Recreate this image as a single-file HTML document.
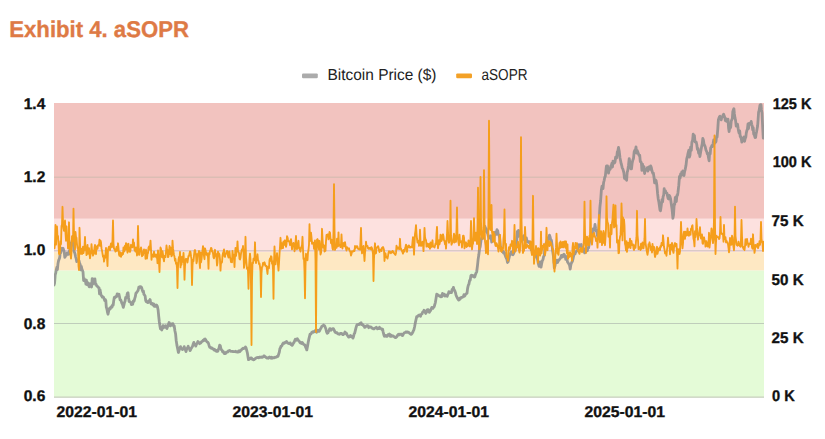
<!DOCTYPE html>
<html><head><meta charset="utf-8"><title>Exhibit 4. aSOPR</title>
<style>
html,body{margin:0;padding:0;background:#fff;}
body{width:825px;height:439px;overflow:hidden;font-family:"Liberation Sans",Arial,sans-serif;}
svg{display:block}
text{font-family:"Liberation Sans",Arial,sans-serif;text-rendering:geometricPrecision;}
.ax{font-weight:700;font-size:15.5px;fill:#111;stroke:#111;stroke-width:0.35px}
.lg{font-size:15.9px;fill:#222}
</style></head><body>
<svg width="825" height="439" viewBox="0 0 825 439">
<rect width="825" height="439" fill="#ffffff"/>
<text x="9.3" y="37.4" font-size="22.8" font-weight="700" fill="#DE7A45" stroke="#DE7A45" stroke-width="0.35" textLength="179.6" lengthAdjust="spacingAndGlyphs">Exhibit 4. aSOPR</text>
<!-- legend -->
<rect x="302" y="73.4" width="15.8" height="4.8" rx="1.2" fill="#ABABAB"/>
<text class="lg" x="327.5" y="80" textLength="109" lengthAdjust="spacingAndGlyphs">Bitcoin Price ($)</text>
<rect x="456.2" y="73.4" width="15.8" height="4.8" rx="1.2" fill="#F3A127"/>
<text class="lg" x="481.5" y="80" textLength="46" lengthAdjust="spacingAndGlyphs">aSOPR</text>
<!-- bands -->
<rect x="54" y="103" width="710" height="115.80000000000001" fill="#F2C3BF"/>
<rect x="54" y="218.8" width="710" height="33.29999999999998" fill="#FDE1DF"/>
<rect x="54" y="252.1" width="710" height="18.50000000000003" fill="#FEE8C3"/>
<rect x="54" y="270.6" width="710" height="127.0" fill="#E4FBD7"/>
<!-- gridlines -->
<g stroke="#9aa0a0" stroke-opacity="0.5" stroke-width="1">
<line x1="54" x2="764" y1="177.3" y2="177.3" stroke="#a4ae9c" stroke-opacity="0.30" stroke-width="1.6"/>
<line x1="54" x2="764" y1="250.8" y2="250.8"/>
<line x1="54" x2="764" y1="323.5" y2="323.5"/>
<line x1="54" x2="764" y1="397.2" y2="397.2" stroke="#c9cfc0" stroke-opacity="1" stroke-width="1.3"/>
</g>
<!-- series -->
<clipPath id="cp"><rect x="54" y="103" width="710" height="295.6"/></clipPath>
<g clip-path="url(#cp)">
<polyline fill="none" stroke="#8C8C8C" stroke-opacity="0.86" stroke-width="2.8" stroke-linejoin="round" stroke-linecap="round" points="54.1,285.0 54.6,282.9 55.2,274.8 55.7,273.2 56.3,269.6 56.9,267.3 57.4,269.6 58.0,263.4 58.6,260.4 59.1,259.3 59.7,257.5 60.3,251.9 60.8,252.8 61.4,248.3 62.0,249.2 62.5,249.2 63.1,248.3 63.6,249.9 64.2,251.7 64.8,257.4 65.4,256.3 65.9,255.1 66.5,255.2 67.1,252.9 67.7,253.4 68.2,253.6 68.8,254.3 69.4,251.1 70.0,249.2 70.5,243.2 71.0,245.4 71.6,242.6 72.2,240.6 72.8,245.1 73.3,240.6 73.9,251.0 74.5,252.3 75.0,253.7 75.6,256.8 76.2,258.7 76.7,261.6 77.3,260.8 77.9,260.3 78.4,260.8 79.0,260.6 79.6,263.3 80.2,264.5 80.8,269.9 81.3,266.4 81.9,269.1 82.5,270.5 83.0,271.9 83.6,280.5 84.2,278.7 84.8,280.2 85.3,280.0 85.9,284.1 86.4,280.1 87.0,284.5 87.6,282.5 88.1,284.6 88.7,285.6 89.3,286.8 89.8,283.6 90.4,285.1 91.0,285.2 91.6,287.0 92.2,278.6 92.7,284.2 93.3,281.1 93.8,279.1 94.4,280.1 94.9,278.9 95.5,284.3 96.1,284.1 96.7,285.9 97.3,286.2 97.8,286.8 98.4,287.4 99.0,287.7 99.5,293.8 100.1,290.0 100.6,293.1 101.2,295.5 101.8,295.9 102.3,297.1 102.9,296.7 103.5,297.3 104.1,298.7 104.7,300.5 105.2,299.4 105.8,300.7 106.3,307.2 106.9,309.1 107.4,311.8 108.0,314.2 108.6,311.5 109.1,309.0 109.7,308.2 110.3,308.9 110.8,307.2 111.4,306.7 112.0,307.1 112.6,305.0 113.2,305.0 113.7,300.9 114.3,297.5 114.9,297.8 115.5,296.6 116.1,296.9 116.6,296.6 117.2,293.9 117.8,294.4 118.3,295.1 118.9,294.1 119.5,296.7 120.1,299.9 120.7,299.9 121.2,301.1 121.8,303.0 122.5,304.4 123.3,307.3 123.9,305.1 124.5,302.5 125.1,300.9 125.7,297.3 126.3,297.6 126.8,295.8 127.4,293.3 128.0,292.7 128.6,298.0 129.1,301.5 129.7,301.6 130.3,301.9 130.8,302.4 131.4,304.6 132.0,303.8 132.7,304.2 133.3,301.0 134.0,301.3 134.7,298.6 135.3,296.7 135.9,293.2 136.5,292.8 137.1,291.8 137.7,291.0 138.3,289.8 138.8,287.2 139.4,287.8 140.0,286.7 140.6,286.6 141.2,287.0 141.7,288.0 142.3,290.0 142.9,291.8 143.4,290.9 143.9,294.3 144.5,294.9 145.1,295.9 145.7,300.5 146.2,301.6 146.8,301.9 147.4,302.2 147.9,302.6 148.5,300.9 149.0,301.4 149.6,301.8 150.1,299.5 150.7,302.9 151.2,304.0 151.8,304.2 152.3,303.4 153.0,305.0 153.7,303.9 154.3,306.3 155.0,306.3 155.6,306.3 156.2,305.0 156.8,305.3 157.4,306.4 158.1,309.9 158.7,316.2 159.3,321.5 159.9,325.9 160.5,328.9 161.1,327.4 161.7,330.0 162.3,328.0 162.9,325.7 163.5,327.8 164.1,326.2 164.7,326.2 165.2,327.0 165.8,325.8 166.3,327.6 166.9,328.5 167.4,327.0 168.0,326.1 168.6,324.0 169.1,322.5 169.8,323.8 170.5,325.9 171.1,325.2 171.7,324.0 172.3,323.6 172.9,323.7 173.6,326.2 174.2,325.8 174.9,330.7 175.6,334.0 176.2,340.5 176.9,345.1 177.7,348.9 178.4,352.5 179.1,350.3 179.8,348.3 180.5,346.6 181.1,348.4 181.8,348.5 182.4,349.6 183.0,348.8 183.6,348.8 184.2,346.7 184.8,348.6 185.4,349.8 186.0,351.6 186.6,349.4 187.1,348.6 187.6,347.7 188.2,346.3 188.8,348.2 189.4,348.7 190.0,350.6 190.6,349.7 191.2,348.2 191.8,347.6 192.5,346.4 193.1,344.3 193.8,342.4 194.4,344.2 195.1,344.3 195.7,346.1 196.2,344.9 196.8,343.7 197.3,342.9 197.9,341.5 198.5,342.2 199.1,342.8 199.7,343.7 200.2,342.7 200.8,342.9 201.3,342.2 201.9,341.4 202.5,341.4 203.2,340.1 203.8,340.6 204.5,339.2 205.1,339.0 205.7,339.9 206.2,340.8 206.8,341.5 207.3,342.2 207.9,342.4 208.5,343.5 209.1,345.7 209.7,347.1 210.2,346.9 210.8,348.2 211.3,348.2 211.9,348.0 212.4,348.9 213.0,348.6 213.5,349.1 214.1,350.1 214.6,349.6 215.2,350.6 215.7,350.2 216.3,351.3 216.8,350.8 217.4,351.4 217.9,351.2 218.5,349.2 219.1,347.7 219.7,345.2 220.3,345.8 220.9,348.6 221.5,349.9 222.1,350.3 222.6,351.7 223.2,351.4 223.7,352.5 224.3,353.5 225.0,353.6 225.7,353.4 226.3,352.2 227.0,352.1 227.7,352.1 228.3,350.9 229.0,351.0 229.7,350.4 230.3,351.2 230.8,351.3 231.4,351.4 231.9,351.3 232.5,351.5 233.1,351.4 233.7,351.7 234.3,351.6 234.9,351.7 235.5,351.3 236.1,351.8 236.7,351.6 237.3,352.1 237.9,352.1 238.6,351.1 239.2,350.8 239.8,351.7 240.5,350.7 241.2,350.2 241.8,349.4 242.5,348.8 243.1,348.1 243.7,348.5 244.3,348.1 244.9,348.2 245.5,347.0 246.1,348.0 246.8,350.7 247.4,353.0 247.9,356.2 248.5,359.7 249.1,359.5 249.6,358.8 250.1,358.9 250.7,357.9 251.2,357.9 251.8,358.4 252.3,359.3 252.9,359.1 253.4,359.8 254.0,359.7 254.5,359.2 255.1,359.0 255.6,358.2 256.2,357.9 256.9,357.7 257.5,357.7 258.2,357.3 258.9,357.8 259.4,357.3 260.0,357.0 260.5,357.4 261.1,357.4 261.6,356.9 262.2,357.4 262.7,357.0 263.3,356.9 263.8,356.0 264.4,355.9 264.9,356.7 265.5,356.9 266.0,357.5 266.6,357.7 267.1,358.1 267.7,357.8 268.3,358.2 268.9,357.6 269.5,357.0 270.1,357.7 270.7,358.1 271.3,357.2 271.9,358.3 272.5,357.6 273.2,357.7 273.8,357.9 274.4,357.9 275.0,357.2 275.6,357.3 276.2,357.2 276.8,357.0 277.4,356.1 278.0,356.3 278.6,354.4 279.3,352.3 279.9,348.6 280.4,348.0 281.0,346.1 281.5,346.2 282.1,345.4 282.6,344.0 283.3,343.0 284.0,343.4 284.6,343.1 285.3,342.2 285.9,342.4 286.5,341.5 287.1,342.5 287.8,343.1 288.4,343.2 289.0,343.6 289.6,343.1 290.3,343.0 290.9,344.6 291.6,344.5 292.2,345.3 292.8,344.4 293.4,343.2 294.0,342.4 294.6,340.9 295.3,339.3 296.0,339.7 296.6,340.2 297.3,338.7 298.0,340.2 298.6,340.6 299.3,341.3 300.0,342.7 300.6,343.1 301.1,342.6 301.7,343.4 302.2,342.5 302.8,343.2 303.5,344.4 304.2,344.6 304.9,345.0 305.5,346.9 306.2,348.3 306.8,349.9 307.5,346.5 308.2,342.3 308.8,339.4 309.4,336.9 310.0,334.2 310.6,334.2 311.3,333.5 311.9,332.2 312.4,332.0 313.0,331.6 313.5,332.2 314.1,331.4 314.6,331.6 315.3,330.6 316.0,331.3 316.6,332.3 317.3,331.3 317.9,330.3 318.4,330.7 319.0,331.4 319.5,330.9 320.1,329.6 320.7,328.5 321.2,327.8 321.8,326.4 322.4,326.0 322.9,325.8 323.5,325.1 324.1,325.7 324.6,325.9 325.2,327.3 325.9,329.0 326.5,331.7 327.2,333.3 327.9,332.9 328.5,331.4 329.1,330.5 329.7,328.7 330.3,328.7 331.0,330.2 331.6,329.5 332.2,329.0 332.8,328.7 333.4,328.6 333.9,329.6 334.5,330.9 335.1,332.3 335.6,332.5 336.3,332.9 337.0,332.6 337.6,333.7 338.3,334.0 339.0,333.9 339.6,334.3 340.3,333.6 341.0,333.3 341.6,333.3 342.1,334.0 342.6,334.5 343.2,334.6 343.8,333.7 344.4,333.7 345.0,332.0 345.6,332.8 346.3,333.0 346.9,334.5 347.5,335.5 348.1,336.3 348.7,337.1 349.3,336.9 349.9,336.7 350.5,335.4 351.1,336.1 351.7,336.9 352.3,336.5 352.9,338.1 353.5,336.7 354.1,334.0 354.7,333.2 355.3,330.7 355.9,328.1 356.5,326.1 357.1,324.6 357.7,324.7 358.3,324.3 358.9,324.5 359.4,323.9 360.0,323.5 360.5,323.9 361.1,322.8 361.7,324.5 362.3,324.3 362.9,324.8 363.5,325.8 364.1,325.9 364.7,327.4 365.3,327.1 365.9,326.2 366.5,326.2 367.1,325.7 367.6,325.6 368.2,326.0 368.7,327.7 369.3,326.9 370.0,326.9 370.6,327.0 371.3,327.2 372.0,328.2 372.7,328.4 373.4,328.9 374.0,328.9 374.7,328.3 375.3,327.9 375.8,327.9 376.4,327.2 376.9,328.1 377.5,328.9 378.2,328.4 378.9,328.6 379.5,327.3 380.2,328.1 380.8,328.5 381.4,328.8 382.0,329.5 382.6,329.2 383.2,332.1 383.9,334.9 384.4,336.2 385.0,335.4 385.5,335.4 386.1,336.3 386.6,335.8 387.3,336.3 388.0,334.7 388.6,334.6 389.3,334.0 390.2,336.2 390.8,334.9 391.3,336.4 391.9,335.6 392.4,336.0 393.0,335.8 393.7,336.5 394.4,336.8 395.0,337.4 395.7,337.6 396.2,337.2 396.8,336.8 397.3,335.5 397.9,334.9 398.5,334.2 399.1,335.0 399.7,334.2 400.3,334.4 400.9,334.4 401.5,334.1 402.0,335.4 402.6,335.5 403.2,334.3 403.9,333.2 404.6,332.6 405.2,332.6 405.8,332.0 406.4,331.9 407.0,332.4 407.6,331.9 408.2,332.4 408.8,332.5 409.4,333.2 410.0,333.6 410.5,333.8 411.1,334.3 411.7,334.1 412.2,333.3 412.8,332.2 413.3,330.9 413.9,329.8 414.6,326.7 415.4,322.4 416.0,319.7 416.7,316.6 417.4,316.7 418.0,315.9 418.7,315.3 419.4,314.9 419.9,315.2 420.5,316.3 421.0,314.5 421.6,314.0 422.1,313.7 422.7,312.1 423.4,311.6 424.0,310.3 424.6,311.0 425.2,312.5 425.8,313.4 426.4,312.0 427.0,310.2 427.6,309.7 428.2,309.7 428.8,312.0 429.4,312.3 430.0,311.2 430.6,310.5 431.2,308.9 431.8,307.5 432.3,308.1 432.9,308.4 433.4,307.1 434.0,307.1 434.7,305.0 435.4,302.3 436.0,298.6 436.7,294.1 437.3,294.5 437.9,294.9 438.5,295.5 439.1,295.8 439.6,296.2 440.2,295.8 440.8,296.9 441.4,295.9 442.0,296.4 442.5,293.4 443.1,295.1 443.7,294.5 444.3,294.3 444.9,296.1 445.4,295.5 446.0,295.2 446.6,295.3 447.2,296.4 447.8,294.6 448.3,293.8 448.9,291.7 449.5,292.1 450.2,292.5 450.8,292.0 451.5,292.6 452.1,289.4 452.8,290.0 453.4,287.3 454.1,290.2 454.7,290.5 455.4,292.4 456.0,294.9 456.7,296.7 457.3,298.0 457.9,298.9 458.6,300.0 459.2,299.9 459.8,298.3 460.4,298.7 461.0,297.6 461.6,297.4 462.2,297.4 462.8,297.0 463.4,296.5 463.9,294.8 464.5,296.2 465.1,295.4 465.7,294.2 466.4,293.7 467.0,293.3 467.6,288.4 468.3,285.2 468.9,284.2 469.6,280.4 470.2,280.2 470.9,275.6 471.5,275.2 472.2,276.4 472.8,275.5 473.5,276.3 474.1,277.0 474.8,277.0 475.4,274.6 476.1,272.9 476.7,271.8 477.4,266.3 478.1,259.6 478.9,254.3 479.6,248.5 480.2,246.7 480.9,241.3 481.5,238.2 482.2,236.6 482.8,238.4 483.5,231.7 484.2,231.8 485.0,226.5 485.7,230.9 486.3,228.7 487.0,232.2 487.7,233.5 488.3,236.1 489.0,238.1 489.7,238.0 490.3,237.1 491.0,235.7 491.7,242.0 492.3,239.4 493.0,240.5 493.7,240.9 494.3,236.4 495.0,232.4 495.7,232.1 496.3,234.3 497.0,229.7 497.7,230.7 498.3,234.6 499.0,234.8 499.7,238.8 500.3,246.0 501.0,247.7 501.6,249.5 502.3,251.6 502.9,251.1 503.4,253.0 503.9,252.4 504.5,252.6 505.0,254.8 505.6,256.7 506.2,257.9 506.9,259.3 507.5,262.5 508.2,261.6 508.8,258.8 509.5,255.9 510.0,253.6 510.6,253.2 511.1,251.9 511.6,252.9 512.2,254.5 512.9,254.8 513.5,253.8 514.2,251.6 514.8,250.9 515.5,249.1 516.1,244.3 516.8,240.3 517.4,231.5 517.9,236.7 518.5,230.3 519.0,231.8 519.5,234.9 520.1,234.7 520.8,236.6 521.4,241.2 522.0,237.5 522.6,239.5 523.2,236.4 523.9,236.8 524.5,235.3 525.1,241.0 525.8,237.9 526.4,237.9 527.0,241.6 527.6,241.1 528.2,242.3 528.8,242.2 529.4,241.8 530.0,243.0 530.6,245.3 531.2,249.7 531.8,249.4 532.4,250.0 533.0,252.5 533.6,251.0 534.2,255.1 534.7,253.6 535.3,253.0 535.9,255.2 536.5,257.5 537.2,258.2 537.8,260.7 538.4,263.9 539.1,266.3 539.7,266.0 540.4,262.0 541.0,267.2 541.7,263.4 542.3,260.7 543.0,259.6 543.6,256.5 544.3,255.4 544.9,249.0 545.6,247.9 546.2,242.6 546.9,244.0 547.5,237.8 548.2,239.3 548.8,239.1 549.5,235.1 550.1,237.0 550.8,240.1 551.4,240.2 552.0,244.6 552.6,250.7 553.2,254.5 553.8,260.2 554.3,267.9 555.0,265.9 555.6,262.1 556.3,262.0 556.9,260.1 557.6,262.5 558.2,260.5 558.9,260.4 559.5,259.3 560.1,258.6 560.7,257.9 561.4,255.4 562.0,255.9 562.7,256.9 563.3,255.0 564.0,254.2 564.6,255.5 565.2,255.8 565.7,259.3 566.3,256.7 566.9,258.8 567.5,262.0 568.2,262.9 568.8,263.9 569.5,265.0 570.2,269.1 571.0,264.1 571.7,262.5 572.4,261.3 573.0,258.8 573.7,255.7 574.3,252.6 575.0,253.9 575.6,252.3 576.3,251.4 576.9,251.0 577.6,250.0 578.2,246.5 578.9,244.6 579.5,246.6 580.1,245.6 580.7,245.3 581.2,244.5 581.8,249.2 582.4,248.1 583.0,248.0 583.6,251.4 584.1,251.7 584.7,252.9 585.3,252.0 586.0,247.8 586.6,250.0 587.3,250.7 587.9,247.6 588.6,247.8 589.2,244.3 589.8,239.7 590.5,239.9 591.1,236.2 591.8,233.3 592.4,234.1 593.1,228.8 593.7,230.5 594.4,229.3 595.0,224.5 595.6,228.3 596.2,231.0 596.9,231.8 597.5,236.1 598.0,232.8 598.6,232.0 599.2,219.3 599.9,207.2 600.6,201.0 601.4,189.7 602.0,186.2 602.5,187.9 603.0,188.6 603.6,182.5 604.2,180.3 604.7,177.5 605.3,176.3 605.8,171.7 606.4,166.1 606.9,165.9 607.5,165.8 608.0,169.1 608.5,173.2 609.1,170.0 609.7,168.3 610.2,169.2 610.8,166.0 611.3,165.7 611.9,163.3 612.5,167.0 613.0,161.1 613.8,162.3 614.5,162.9 615.0,162.1 615.6,157.1 616.2,158.2 616.7,157.8 617.3,151.9 617.9,150.8 618.5,147.4 619.2,150.9 620.0,158.0 620.6,160.8 621.1,163.4 621.7,165.5 622.2,167.9 622.8,168.9 623.4,170.9 623.9,172.9 624.5,178.3 625.0,177.3 625.5,179.0 626.1,178.0 626.6,180.3 627.2,172.2 627.7,170.7 628.5,165.4 629.2,158.6 629.8,161.8 630.3,163.9 630.9,168.8 631.5,168.8 632.1,163.6 632.7,160.4 633.5,158.4 634.2,151.7 634.8,150.2 635.4,150.3 636.0,147.0 636.6,153.1 637.3,150.6 637.9,152.3 638.5,153.9 639.1,155.5 639.7,155.2 640.3,161.6 640.8,161.6 641.4,163.0 641.9,170.3 642.5,164.2 643.0,168.8 643.5,168.7 644.0,166.7 644.6,173.5 645.1,169.4 645.6,170.2 646.2,169.3 646.8,169.2 647.3,167.6 647.8,171.0 648.4,169.3 649.0,166.8 649.5,168.5 650.1,169.2 650.7,165.9 651.3,167.5 652.0,171.0 652.8,173.3 653.4,173.2 654.0,177.2 654.6,182.8 655.4,179.9 656.1,180.5 656.9,185.5 657.6,193.7 658.2,198.7 658.8,201.6 659.4,205.7 660.0,210.0 660.5,210.8 661.2,206.1 662.0,199.7 662.6,201.8 663.1,196.7 663.7,195.1 664.2,188.6 664.8,192.5 665.4,190.8 665.9,192.3 666.5,192.9 667.0,193.2 667.5,195.9 668.1,198.4 668.7,199.0 669.3,195.4 669.9,196.4 670.6,198.9 671.4,204.8 672.1,209.4 672.9,218.3 673.5,215.1 674.2,204.2 674.7,204.4 675.3,197.4 675.8,197.3 676.3,201.5 676.9,195.5 677.5,195.4 678.0,192.2 678.8,185.2 679.5,176.4 680.1,178.1 680.6,173.8 681.2,175.5 681.8,172.0 682.3,174.8 682.9,170.9 683.4,174.5 684.0,175.6 684.6,171.7 685.2,169.6 686.0,165.3 686.7,159.1 687.5,155.9 688.2,152.6 688.8,150.3 689.4,157.1 690.0,155.2 690.6,147.1 691.3,150.4 691.9,142.3 692.6,140.3 693.2,134.1 693.8,136.0 694.4,135.4 695.0,141.8 695.6,141.7 696.2,142.0 696.8,144.8 697.4,149.3 698.0,148.4 698.6,153.0 699.3,152.7 699.9,156.6 700.5,153.1 701.1,149.6 701.6,146.7 702.2,144.2 702.8,138.4 703.4,140.0 704.0,144.1 704.6,145.5 705.2,146.7 706.0,150.3 706.7,151.4 707.3,153.8 707.9,153.7 708.5,157.8 709.1,160.8 709.6,153.2 710.2,153.9 710.7,147.9 711.3,146.9 711.9,145.5 712.5,146.6 713.1,143.8 713.7,140.0 714.3,143.7 714.9,142.2 715.5,142.4 716.0,141.4 716.6,136.5 717.1,137.2 717.8,128.6 718.4,119.5 719.0,118.2 719.5,116.6 720.0,116.3 720.6,118.1 721.2,119.9 721.9,117.2 722.5,116.9 723.0,115.3 723.6,114.3 724.3,116.1 724.8,117.5 725.4,120.7 725.9,118.7 726.4,121.3 727.0,121.4 727.5,121.3 728.0,119.1 728.6,128.3 729.1,131.5 729.6,127.8 730.2,128.1 730.7,127.1 731.2,121.3 731.8,119.7 732.3,118.7 732.8,111.6 733.4,109.8 733.9,108.7 734.4,113.9 735.0,118.1 735.5,120.1 736.2,126.2 737.0,124.7 737.5,124.2 738.1,128.3 738.6,131.2 739.1,133.2 739.7,130.9 740.2,136.6 740.7,136.4 741.3,139.1 741.8,142.1 742.3,139.9 742.9,138.3 743.4,138.6 744.0,137.0 744.6,141.3 745.2,138.5 745.8,137.2 746.3,132.8 746.9,130.4 747.4,129.3 748.0,124.0 748.5,128.6 749.1,123.3 749.7,124.5 750.5,123.8 751.2,121.4 751.7,124.3 752.2,125.9 752.7,129.8 753.2,127.7 753.7,134.1 754.2,134.5 755.1,137.6 755.6,137.5 756.1,133.8 756.6,131.6 757.1,128.8 757.6,126.0 758.1,119.7 758.6,112.0 759.1,110.7 760.0,105.0 760.5,104.6 761.0,104.7 761.5,110.0 762.0,112.9 762.7,127.9 763.3,138.2"/>
<polyline fill="none" stroke="#F59E1B" stroke-width="1.85" stroke-linejoin="round" points="54.0,244.3 54.5,248.4 55.0,243.5 55.5,225.0 56.0,244.6 56.5,235.8 57.0,226.5 57.5,238.4 58.0,236.0 58.5,244.0 59.0,253.6 59.5,254.4 60.0,251.7 60.5,241.2 61.0,244.1 61.5,226.1 62.0,224.6 62.5,206.8 63.0,221.6 63.5,228.1 64.0,230.9 64.5,225.2 65.0,220.5 65.5,232.9 66.0,240.7 66.5,226.3 67.0,239.4 67.5,237.1 68.0,248.4 68.5,243.7 69.0,222.3 69.5,246.0 70.0,252.1 70.5,254.1 71.0,258.6 71.5,252.1 72.0,236.2 72.5,238.4 73.0,241.2 73.5,208.7 74.0,234.6 74.5,244.8 75.0,249.5 75.5,232.0 76.0,237.0 76.5,237.7 77.0,244.3 77.5,248.0 78.0,248.7 78.5,265.8 79.0,270.1 79.5,227.8 80.0,242.9 80.5,253.8 81.0,248.7 81.5,252.0 82.0,254.1 82.5,248.7 83.0,246.6 83.5,253.0 84.0,249.8 84.5,246.9 85.0,237.0 85.5,249.9 86.0,247.5 86.5,255.1 87.0,248.3 87.5,244.9 88.0,253.9 88.5,251.5 89.0,248.1 89.5,253.7 90.0,258.3 90.5,254.9 91.0,253.2 91.5,244.1 92.0,250.2 92.5,250.5 93.0,255.6 93.5,250.5 94.0,253.9 94.5,247.6 95.0,245.0 95.5,250.4 96.0,254.2 96.5,246.5 97.0,246.2 97.5,248.9 98.0,245.6 98.5,244.8 99.0,244.9 99.5,239.6 100.0,245.9 100.5,240.6 101.0,242.2 101.5,248.4 102.0,250.6 102.5,253.7 103.0,256.8 103.5,255.6 104.0,261.6 104.5,258.6 105.0,258.0 105.5,254.5 106.0,247.9 106.5,255.4 107.0,258.0 107.5,266.0 108.0,249.7 108.5,248.1 109.0,246.6 109.5,249.2 110.0,250.2 110.5,246.1 111.0,243.3 111.5,243.3 112.0,247.2 112.5,239.6 113.0,220.5 113.5,243.6 114.0,248.6 114.5,249.2 115.0,250.2 115.5,251.6 116.0,250.2 116.5,247.0 117.0,250.8 117.5,249.2 118.0,243.3 118.5,248.1 119.0,254.6 119.5,255.8 120.0,252.2 120.5,254.8 121.0,256.9 121.5,253.1 122.0,255.0 122.5,252.8 123.0,254.2 123.5,247.4 124.0,251.7 124.5,251.0 125.0,245.6 125.5,249.5 126.0,243.1 126.5,243.6 127.0,249.1 127.5,252.7 128.0,245.3 128.5,243.8 129.0,248.7 129.5,251.7 130.0,251.9 130.5,250.2 131.0,244.8 131.5,247.0 132.0,245.9 132.5,247.3 133.0,239.4 133.5,244.9 134.0,242.7 134.5,249.7 135.0,250.6 135.5,251.6 136.0,247.4 136.5,248.5 137.0,255.5 137.5,250.2 138.0,226.0 138.5,243.8 139.0,254.7 139.5,254.7 140.0,249.4 140.5,249.3 141.0,247.5 141.5,250.0 142.0,256.2 142.5,254.1 143.0,255.2 143.5,251.8 144.0,249.4 144.5,253.1 145.0,250.6 145.5,258.8 146.0,249.7 146.5,256.7 147.0,258.5 147.5,253.9 148.0,253.1 148.5,247.7 149.0,246.5 149.5,249.5 150.0,247.0 150.5,240.6 151.0,249.2 151.5,259.8 152.0,254.9 152.5,254.8 153.0,254.3 153.5,256.8 154.0,251.6 154.5,255.0 155.0,256.5 155.5,255.1 156.0,254.5 156.5,257.5 157.0,255.9 157.5,263.2 158.0,250.5 158.5,258.5 159.0,262.2 159.5,272.0 160.0,257.9 160.5,247.5 161.0,248.8 161.5,254.2 162.0,257.3 162.5,251.2 163.0,254.4 163.5,258.7 164.0,261.3 164.5,255.9 165.0,255.9 165.5,257.1 166.0,252.0 166.5,245.4 167.0,249.4 167.5,250.1 168.0,257.1 168.5,256.4 169.0,251.8 169.5,246.0 170.0,254.0 170.5,247.5 171.0,253.1 171.5,256.4 172.0,255.4 172.5,240.6 173.0,248.4 173.5,251.7 174.0,254.9 174.5,256.8 175.0,260.8 175.5,259.0 176.0,263.8 176.5,262.9 177.0,268.3 177.5,288.0 178.0,267.3 178.5,259.7 179.0,256.9 179.5,260.5 180.0,251.9 180.5,267.4 181.0,261.3 181.5,264.8 182.0,256.7 182.5,259.3 183.0,261.9 183.5,252.9 184.0,261.4 184.5,279.7 185.0,265.8 185.5,260.5 186.0,258.8 186.5,259.8 187.0,258.9 187.5,262.5 188.0,258.8 188.5,256.0 189.0,256.1 189.5,253.5 190.0,251.5 190.5,252.0 191.0,256.2 191.5,259.2 192.0,285.1 192.5,265.7 193.0,259.7 193.5,261.1 194.0,255.5 194.5,251.0 195.0,250.0 195.5,252.5 196.0,254.6 196.5,263.3 197.0,261.3 197.5,254.0 198.0,253.7 198.5,253.3 199.0,251.0 199.5,262.2 200.0,268.0 200.5,252.5 201.0,262.3 201.5,259.6 202.0,254.6 202.5,250.3 203.0,246.2 203.5,252.3 204.0,256.2 204.5,259.2 205.0,248.3 205.5,250.3 206.0,252.8 206.5,254.9 207.0,253.2 207.5,255.3 208.0,257.1 208.5,268.7 209.0,253.0 209.5,254.3 210.0,251.0 210.5,250.3 211.0,247.9 211.5,248.2 212.0,251.5 212.5,251.0 213.0,253.4 213.5,257.3 214.0,258.3 214.5,256.2 215.0,249.8 215.5,253.9 216.0,253.8 216.5,257.7 217.0,265.5 217.5,262.7 218.0,251.6 218.5,255.3 219.0,253.5 219.5,254.9 220.0,259.7 220.5,270.6 221.0,262.4 221.5,262.8 222.0,262.3 222.5,255.9 223.0,253.2 223.5,251.5 224.0,249.4 224.5,256.4 225.0,256.9 225.5,253.7 226.0,253.9 226.5,251.9 227.0,250.9 227.5,251.3 228.0,256.0 228.5,257.5 229.0,253.7 229.5,251.5 230.0,257.1 230.5,258.9 231.0,262.0 231.5,259.2 232.0,262.4 232.5,251.0 233.0,255.2 233.5,254.7 234.0,259.0 234.5,267.0 235.0,255.8 235.5,247.9 236.0,256.0 236.5,251.8 237.0,250.3 237.5,241.4 238.0,251.1 238.5,252.1 239.0,252.9 239.5,258.9 240.0,259.5 240.5,257.7 241.0,253.7 241.5,251.0 242.0,249.2 242.5,250.0 243.0,246.0 243.5,252.0 244.0,267.9 244.5,263.9 245.0,255.8 245.5,236.8 246.0,257.3 246.5,263.6 247.0,268.7 247.5,267.6 248.0,270.9 248.5,288.8 249.0,267.6 249.5,259.2 250.0,253.7 250.5,259.4 251.0,285.7 251.5,345.0 252.0,280.7 252.5,262.8 253.0,263.4 253.5,258.6 254.0,260.4 254.5,259.4 255.0,242.3 255.5,260.2 256.0,263.1 256.5,258.8 257.0,258.3 257.5,254.3 258.0,260.0 258.5,261.0 259.0,264.0 259.5,263.5 260.0,266.6 260.5,271.3 261.0,297.0 261.5,273.3 262.0,267.0 262.5,266.7 263.0,262.9 263.5,263.6 264.0,264.5 264.5,262.3 265.0,264.1 265.5,265.9 266.0,266.1 266.5,265.9 267.0,270.0 267.5,274.0 268.0,267.2 268.5,266.5 269.0,268.1 269.5,260.3 270.0,258.5 270.5,260.9 271.0,256.2 271.5,256.9 272.0,263.6 272.5,261.1 273.0,269.4 273.5,298.8 274.0,264.0 274.5,246.5 275.0,257.2 275.5,264.4 276.0,258.1 276.5,258.5 277.0,253.1 277.5,258.8 278.0,265.2 278.5,270.6 279.0,263.1 279.5,254.1 280.0,246.9 280.5,237.8 281.0,245.7 281.5,248.7 282.0,243.1 282.5,245.2 283.0,248.1 283.5,241.4 284.0,245.0 284.5,242.6 285.0,240.3 285.5,243.2 286.0,246.8 286.5,244.5 287.0,236.2 287.5,237.3 288.0,239.8 288.5,241.4 289.0,241.1 289.5,242.0 290.0,245.2 290.5,240.7 291.0,239.1 291.5,243.6 292.0,249.3 292.5,245.0 293.0,244.3 293.5,242.9 294.0,244.3 294.5,251.3 295.0,248.8 295.5,242.5 296.0,236.0 296.5,247.2 297.0,249.2 297.5,243.4 298.0,243.9 298.5,240.8 299.0,248.5 299.5,247.8 300.0,250.0 300.5,251.5 301.0,248.3 301.5,246.9 302.0,245.0 302.5,236.8 303.0,249.8 303.5,258.9 304.0,258.2 304.5,271.4 305.0,298.3 305.5,266.4 306.0,253.8 306.5,255.7 307.0,257.3 307.5,260.3 308.0,252.4 308.5,250.0 309.0,244.6 309.5,224.2 310.0,241.0 310.5,237.9 311.0,232.6 311.5,237.4 312.0,243.8 312.5,242.8 313.0,242.7 313.5,242.6 314.0,248.8 314.5,247.6 315.0,240.4 315.5,260.2 316.0,332.0 316.5,263.5 317.0,239.6 317.5,239.1 318.0,240.5 318.5,245.6 319.0,249.7 319.5,240.8 320.0,246.1 320.5,254.5 321.0,253.0 321.5,249.0 322.0,228.8 322.5,238.2 323.0,246.1 323.5,247.6 324.0,245.3 324.5,251.5 325.0,249.5 325.5,250.8 326.0,241.2 326.5,235.0 327.0,236.1 327.5,234.3 328.0,234.3 328.5,239.4 329.0,236.6 329.5,231.9 330.0,232.7 330.5,238.6 331.0,243.2 331.5,239.6 332.0,244.2 332.5,248.4 333.0,249.8 333.5,230.8 334.0,184.1 334.5,228.7 335.0,250.0 335.5,245.7 336.0,246.2 336.5,247.9 337.0,238.7 337.5,244.1 338.0,246.4 338.5,232.4 339.0,244.9 339.5,245.0 340.0,245.9 340.5,247.1 341.0,244.3 341.5,234.5 342.0,244.9 342.5,248.5 343.0,243.9 343.5,243.0 344.0,243.6 344.5,246.3 345.0,242.1 345.5,245.6 346.0,248.6 346.5,250.6 347.0,247.1 347.5,248.2 348.0,248.3 348.5,249.0 349.0,248.3 349.5,250.8 350.0,251.1 350.5,252.3 351.0,255.5 351.5,254.0 352.0,251.2 352.5,251.5 353.0,251.6 353.5,251.2 354.0,250.2 354.5,251.0 355.0,246.0 355.5,248.4 356.0,247.3 356.5,247.2 357.0,246.0 357.5,246.7 358.0,248.9 358.5,248.8 359.0,249.3 359.5,249.5 360.0,249.7 360.5,241.4 361.0,227.9 361.5,246.4 362.0,253.4 362.5,251.1 363.0,251.7 363.5,246.0 364.0,253.8 364.5,261.0 365.0,252.6 365.5,249.1 366.0,241.7 366.5,245.9 367.0,246.1 367.5,246.0 368.0,248.3 368.5,248.8 369.0,247.9 369.5,248.9 370.0,248.9 370.5,247.7 371.0,249.6 371.5,247.2 372.0,248.2 372.5,250.4 373.0,254.0 373.5,281.0 374.0,258.6 374.5,249.6 375.0,243.3 375.5,253.5 376.0,253.2 376.5,247.6 377.0,247.7 377.5,247.1 378.0,246.1 378.5,247.4 379.0,250.4 379.5,252.0 380.0,249.9 380.5,249.6 381.0,249.4 381.5,251.1 382.0,247.9 382.5,247.6 383.0,247.0 383.5,248.2 384.0,249.9 384.5,261.0 385.0,255.4 385.5,253.3 386.0,256.8 386.5,257.4 387.0,256.8 387.5,258.5 388.0,256.0 388.5,252.8 389.0,251.3 389.5,252.7 390.0,251.5 390.5,252.8 391.0,253.2 391.5,252.0 392.0,252.1 392.5,250.9 393.0,252.5 393.5,251.6 394.0,253.2 394.5,253.6 395.0,254.5 395.5,254.9 396.0,252.9 396.5,245.6 397.0,248.0 397.5,248.7 398.0,247.5 398.5,248.9 399.0,247.1 399.5,249.1 400.0,238.8 400.5,248.4 401.0,248.5 401.5,250.3 402.0,251.1 402.5,252.2 403.0,253.6 403.5,250.0 404.0,250.7 404.5,251.6 405.0,248.7 405.5,246.8 406.0,244.6 406.5,245.9 407.0,251.9 407.5,247.5 408.0,247.6 408.5,245.7 409.0,245.4 409.5,247.1 410.0,247.7 410.5,247.2 411.0,246.6 411.5,246.8 412.0,247.5 412.5,241.9 413.0,237.1 413.5,240.5 414.0,254.6 414.5,244.0 415.0,233.9 415.5,230.6 416.0,225.1 416.5,233.6 417.0,239.0 417.5,242.5 418.0,240.7 418.5,240.7 419.0,245.8 419.5,243.8 420.0,229.7 420.5,241.1 421.0,245.9 421.5,245.6 422.0,244.7 422.5,241.6 423.0,243.9 423.5,251.1 424.0,241.7 424.5,227.9 425.0,237.0 425.5,239.5 426.0,239.9 426.5,246.6 427.0,243.4 427.5,243.7 428.0,246.3 428.5,247.1 429.0,243.9 429.5,245.3 430.0,248.8 430.5,242.5 431.0,247.3 431.5,245.9 432.0,243.3 432.5,240.3 433.0,246.7 433.5,246.1 434.0,246.7 434.5,247.4 435.0,245.7 435.5,243.5 436.0,244.0 436.5,233.7 437.0,226.9 437.5,241.5 438.0,248.3 438.5,244.3 439.0,240.1 439.5,244.3 440.0,242.1 440.5,234.7 441.0,236.9 441.5,241.0 442.0,239.7 442.5,234.8 443.0,234.3 443.5,236.5 444.0,240.3 444.5,241.3 445.0,244.3 445.5,241.1 446.0,248.6 446.5,240.0 447.0,234.7 447.5,221.0 448.0,231.5 448.5,241.0 449.0,242.7 449.5,240.7 450.0,239.6 450.5,200.7 451.0,235.9 451.5,244.7 452.0,243.2 452.5,242.8 453.0,241.0 453.5,237.5 454.0,233.7 454.5,242.5 455.0,235.5 455.5,237.5 456.0,241.9 456.5,229.9 457.0,207.5 457.5,236.7 458.0,239.3 458.5,242.6 459.0,245.3 459.5,234.6 460.0,241.8 460.5,242.2 461.0,242.1 461.5,241.2 462.0,247.5 462.5,241.7 463.0,235.9 463.5,235.6 464.0,237.4 464.5,248.4 465.0,244.3 465.5,244.2 466.0,242.3 466.5,247.0 467.0,243.8 467.5,246.0 468.0,245.1 468.5,240.4 469.0,245.4 469.5,246.3 470.0,246.5 470.5,238.8 471.0,221.0 471.5,238.9 472.0,249.4 472.5,244.4 473.0,244.0 473.5,236.6 474.0,218.1 474.5,232.5 475.0,240.6 475.5,240.6 476.0,232.7 476.5,236.6 477.0,244.0 477.5,224.2 478.0,187.6 478.5,234.2 479.0,249.2 479.5,248.8 480.0,225.9 480.5,176.9 481.0,222.1 481.5,233.9 482.0,237.3 482.5,239.1 483.0,236.9 483.5,227.9 484.0,170.1 484.5,220.8 485.0,241.5 485.5,245.3 486.0,253.1 486.5,250.5 487.0,240.6 487.5,243.0 488.0,254.3 488.5,210.1 489.0,120.7 489.5,191.9 490.0,228.6 490.5,230.0 491.0,216.7 491.5,205.0 492.0,232.2 492.5,234.9 493.0,241.8 493.5,232.0 494.0,237.1 494.5,234.2 495.0,243.4 495.5,245.9 496.0,246.0 496.5,243.1 497.0,244.4 497.5,246.2 498.0,248.0 498.5,251.5 499.0,248.0 499.5,236.0 500.0,234.9 500.5,245.6 501.0,251.1 501.5,251.7 502.0,248.0 502.5,250.2 503.0,248.7 503.5,238.3 504.0,234.1 504.5,209.4 505.0,240.9 505.5,250.3 506.0,243.9 506.5,256.9 507.0,257.4 507.5,257.0 508.0,260.8 508.5,252.7 509.0,247.1 509.5,249.8 510.0,249.0 510.5,244.4 511.0,245.3 511.5,245.8 512.0,240.8 512.5,241.4 513.0,252.9 513.5,247.5 514.0,244.0 514.5,224.9 515.0,243.0 515.5,251.5 516.0,247.7 516.5,247.4 517.0,247.4 517.5,244.0 518.0,241.6 518.5,248.1 519.0,250.5 519.5,252.5 520.0,250.4 520.5,220.4 521.0,137.2 521.5,220.1 522.0,240.6 522.5,247.1 523.0,253.0 523.5,248.8 524.0,250.9 524.5,240.4 525.0,227.0 525.5,236.5 526.0,248.1 526.5,247.3 527.0,244.6 527.5,246.6 528.0,246.5 528.5,245.7 529.0,248.1 529.5,248.4 530.0,245.9 530.5,241.4 531.0,248.6 531.5,252.3 532.0,255.0 532.5,237.4 533.0,195.8 533.5,239.5 534.0,263.8 534.5,255.9 535.0,256.0 535.5,251.5 536.0,246.0 536.5,254.0 537.0,249.3 537.5,248.4 538.0,262.7 538.5,248.2 539.0,249.0 539.5,253.8 540.0,255.6 540.5,254.0 541.0,231.6 541.5,253.4 542.0,248.7 542.5,249.5 543.0,245.8 543.5,245.9 544.0,244.0 544.5,245.0 545.0,255.0 545.5,251.8 546.0,245.6 546.5,227.8 547.0,241.4 547.5,250.2 548.0,240.8 548.5,244.1 549.0,243.1 549.5,246.0 550.0,241.3 550.5,243.5 551.0,242.8 551.5,245.7 552.0,246.1 552.5,250.0 553.0,249.1 553.5,262.3 554.0,264.8 554.5,271.5 555.0,262.3 555.5,252.2 556.0,247.9 556.5,233.6 557.0,244.1 557.5,253.5 558.0,248.7 558.5,254.8 559.0,249.0 559.5,243.0 560.0,248.2 560.5,241.4 561.0,247.4 561.5,246.0 562.0,242.5 562.5,247.2 563.0,241.9 563.5,247.3 564.0,245.1 564.5,241.5 565.0,242.9 565.5,247.7 566.0,241.3 566.5,248.7 567.0,253.5 567.5,244.3 568.0,258.7 568.5,256.9 569.0,257.1 569.5,252.9 570.0,252.2 570.5,256.4 571.0,256.3 571.5,253.8 572.0,260.6 572.5,247.8 573.0,243.0 573.5,254.4 574.0,250.8 574.5,249.3 575.0,247.0 575.5,242.9 576.0,248.3 576.5,247.5 577.0,243.1 577.5,248.9 578.0,250.9 578.5,251.2 579.0,252.8 579.5,253.8 580.0,249.3 580.5,247.8 581.0,248.4 581.5,251.7 582.0,252.2 582.5,250.8 583.0,247.2 583.5,245.9 584.0,237.7 584.5,201.6 585.0,233.0 585.5,243.4 586.0,252.9 586.5,240.8 587.0,236.6 587.5,238.1 588.0,245.0 588.5,244.1 589.0,245.5 589.5,235.9 590.0,235.2 590.5,200.7 591.0,233.4 591.5,240.8 592.0,244.7 592.5,239.2 593.0,233.9 593.5,236.5 594.0,232.6 594.5,234.9 595.0,236.8 595.5,237.7 596.0,241.1 596.5,240.2 597.0,238.1 597.5,247.6 598.0,237.5 598.5,229.2 599.0,215.0 599.5,236.7 600.0,242.3 600.5,241.4 601.0,231.1 601.5,233.0 602.0,245.1 602.5,241.9 603.0,243.2 603.5,231.0 604.0,233.5 604.5,236.9 605.0,245.2 605.5,237.7 606.0,228.7 606.5,196.3 607.0,217.8 607.5,222.4 608.0,223.3 608.5,236.7 609.0,233.2 609.5,233.2 610.0,247.5 610.5,225.0 611.0,229.5 611.5,234.3 612.0,222.9 612.5,219.3 613.0,211.4 613.5,204.6 614.0,227.5 614.5,226.8 615.0,216.8 615.5,205.5 616.0,226.2 616.5,225.0 617.0,242.5 617.5,241.8 618.0,240.4 618.5,253.2 619.0,252.9 619.5,241.2 620.0,237.0 620.5,234.9 621.0,226.1 621.5,203.5 622.0,218.5 622.5,240.4 623.0,217.5 623.5,231.0 624.0,219.3 624.5,225.7 625.0,243.8 625.5,245.7 626.0,250.4 626.5,241.1 627.0,251.9 627.5,246.3 628.0,242.6 628.5,247.7 629.0,243.6 629.5,243.8 630.0,238.6 630.5,248.1 631.0,241.7 631.5,241.0 632.0,245.0 632.5,244.3 633.0,244.4 633.5,248.7 634.0,250.0 634.5,247.9 635.0,244.9 635.5,247.9 636.0,241.4 636.5,237.2 637.0,210.8 637.5,235.1 638.0,240.2 638.5,249.2 639.0,248.6 639.5,247.2 640.0,247.2 640.5,250.0 641.0,243.8 641.5,248.9 642.0,245.0 642.5,242.5 643.0,243.2 643.5,248.3 644.0,244.2 644.5,238.7 645.0,219.0 645.5,242.7 646.0,246.1 646.5,249.7 647.0,252.2 647.5,254.8 648.0,251.8 648.5,244.2 649.0,245.0 649.5,242.3 650.0,245.0 650.5,249.1 651.0,250.1 651.5,246.6 652.0,252.5 652.5,243.9 653.0,250.2 653.5,248.9 654.0,246.8 654.5,253.0 655.0,257.0 655.5,255.2 656.0,252.8 656.5,248.1 657.0,246.8 657.5,253.9 658.0,251.5 658.5,248.6 659.0,249.0 659.5,247.8 660.0,250.2 660.5,246.0 661.0,247.0 661.5,243.0 662.0,243.7 662.5,245.2 663.0,235.3 663.5,240.8 664.0,247.0 664.5,249.5 665.0,253.5 665.5,252.8 666.0,252.0 666.5,255.8 667.0,249.6 667.5,245.6 668.0,237.7 668.5,244.2 669.0,246.0 669.5,245.3 670.0,254.3 670.5,244.7 671.0,249.8 671.5,246.8 672.0,242.9 672.5,246.1 673.0,251.0 673.5,252.9 674.0,247.6 674.5,244.2 675.0,243.0 675.5,246.3 676.0,246.2 676.5,243.9 677.0,252.3 677.5,268.5 678.0,249.2 678.5,252.2 679.0,249.4 679.5,254.1 680.0,251.8 680.5,238.6 681.0,222.0 681.5,235.6 682.0,242.9 682.5,248.3 683.0,243.4 683.5,234.5 684.0,231.6 684.5,234.1 685.0,238.9 685.5,231.7 686.0,232.4 686.5,235.5 687.0,235.4 687.5,228.4 688.0,232.7 688.5,234.8 689.0,235.7 689.5,232.0 690.0,234.0 690.5,234.8 691.0,228.8 691.5,229.5 692.0,226.0 692.5,225.3 693.0,233.2 693.5,238.9 694.0,240.9 694.5,246.3 695.0,231.3 695.5,237.2 696.0,233.2 696.5,219.0 697.0,227.4 697.5,231.5 698.0,239.7 698.5,233.6 699.0,235.1 699.5,233.5 700.0,227.2 700.5,236.2 701.0,238.6 701.5,237.7 702.0,234.5 702.5,243.2 703.0,243.8 703.5,238.7 704.0,237.3 704.5,239.8 705.0,240.9 705.5,246.6 706.0,243.3 706.5,241.2 707.0,244.9 707.5,246.5 708.0,242.7 708.5,246.3 709.0,232.8 709.5,247.6 710.0,243.3 710.5,239.0 711.0,235.1 711.5,228.4 712.0,231.0 712.5,238.2 713.0,243.1 713.5,238.7 714.0,217.9 714.5,135.5 715.0,224.6 715.5,254.0 716.0,242.2 716.5,235.6 717.0,237.0 717.5,237.1 718.0,237.1 718.5,237.1 719.0,239.1 719.5,238.5 720.0,233.0 720.5,217.0 721.0,232.1 721.5,233.6 722.0,234.1 722.5,233.8 723.0,234.5 723.5,241.7 724.0,224.9 724.5,239.2 725.0,236.9 725.5,237.3 726.0,242.3 726.5,240.6 727.0,242.6 727.5,242.2 728.0,244.2 728.5,248.0 729.0,252.4 729.5,248.8 730.0,237.9 730.5,240.7 731.0,244.9 731.5,244.2 732.0,235.7 732.5,237.5 733.0,244.2 733.5,246.8 734.0,250.3 734.5,240.6 735.0,206.6 735.5,236.0 736.0,240.0 736.5,244.7 737.0,245.1 737.5,245.8 738.0,245.1 738.5,241.6 739.0,244.1 739.5,245.5 740.0,246.1 740.5,246.8 741.0,238.8 741.5,220.0 742.0,236.4 742.5,246.8 743.0,247.5 743.5,249.0 744.0,246.9 744.5,250.2 745.0,246.2 745.5,239.3 746.0,245.1 746.5,242.1 747.0,238.9 747.5,242.5 748.0,243.4 748.5,246.9 749.0,244.2 749.5,243.4 750.0,243.5 750.5,244.1 751.0,238.7 751.5,242.4 752.0,247.2 752.5,248.7 753.0,234.3 753.5,244.0 754.0,245.6 754.5,252.9 755.0,249.4 755.5,244.9 756.0,246.9 756.5,246.3 757.0,245.2 757.5,243.8 758.0,248.2 758.5,246.3 759.0,245.1 759.5,241.2 760.0,244.9 760.5,239.9 761.0,222.0 761.5,238.8 762.0,241.8 762.5,243.4 763.0,251.0 763.5,241.7 764.0,242.3"/>
</g>
<!-- left axis -->
<g class="ax" text-anchor="end">
<text x="45.3" y="109">1.4</text>
<text x="45.3" y="182">1.2</text>
<text x="45.3" y="255">1.0</text>
<text x="45.3" y="329">0.8</text>
<text x="45.3" y="401">0.6</text>
</g>
<!-- right axis -->
<g class="ax">
<text x="772.7" y="109" textLength="38.7" lengthAdjust="spacingAndGlyphs">125 K</text>
<text x="772.7" y="167.4" textLength="38.7" lengthAdjust="spacingAndGlyphs">100 K</text>
<text x="771.6" y="226" textLength="32" lengthAdjust="spacingAndGlyphs">75 K</text>
<text x="771.6" y="285" textLength="32" lengthAdjust="spacingAndGlyphs">50 K</text>
<text x="771.6" y="343" textLength="32" lengthAdjust="spacingAndGlyphs">25 K</text>
<text x="772.1" y="401" textLength="22.7" lengthAdjust="spacingAndGlyphs">0 K</text>
</g>
<!-- x axis -->
<g class="ax">
<text x="56.6" y="417" textLength="80.4" lengthAdjust="spacingAndGlyphs">2022-01-01</text>
<text x="232.5" y="417" textLength="80.4" lengthAdjust="spacingAndGlyphs">2023-01-01</text>
<text x="408.5" y="417" textLength="80.4" lengthAdjust="spacingAndGlyphs">2024-01-01</text>
<text x="584.5" y="417" textLength="80.4" lengthAdjust="spacingAndGlyphs">2025-01-01</text>
</g>
</svg>
</body></html>
